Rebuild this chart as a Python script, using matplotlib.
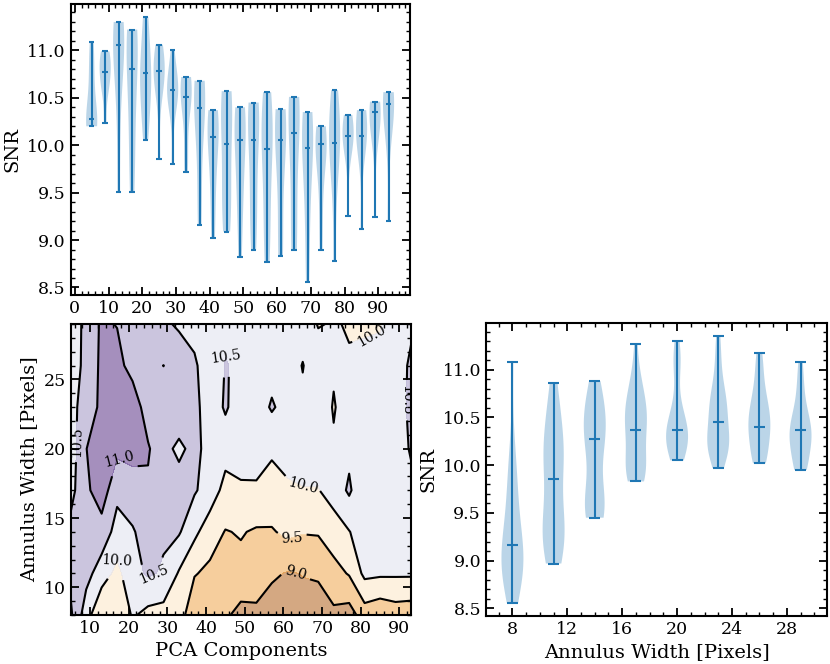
import numpy as np
import matplotlib as mpl
mpl.use("Agg")
import matplotlib.pyplot as plt
from matplotlib.ticker import MultipleLocator, AutoMinorLocator

# grid of the scan
pca_components = [5, 9, 13, 17, 21, 25, 29, 33, 37, 41, 45, 49,
                  53, 57, 61, 65, 69, 73, 77, 81, 85, 89, 93]
annulus_widths = [8, 11, 14, 17, 20, 23, 26, 29]

# SNR for each annulus width (one value per PCA component)
snr_w8 = [11.085, 10.23, 9.51, 9.51, 10.06, 9.85, 9.80, 9.72, 9.16, 9.02, 9.09, 8.82,
          8.90, 8.77, 8.83, 8.90, 8.56, 8.90, 8.78, 9.25, 9.12, 9.24, 9.20]
snr_w11 = [10.86, 10.67, 10.25, 9.86, 10.35, 10.56, 10.45, 9.95, 9.53, 9.40, 9.30, 9.38,
           9.24, 9.07, 8.97, 9.01, 9.11, 9.32, 9.54, 10.12, 10.08, 10.07, 10.07]
snr_w14 = [10.65, 10.88, 10.79, 10.32, 10.45, 10.74, 10.56, 10.55, 10.12, 9.71, 9.48, 9.53,
           9.45, 9.45, 9.62, 9.53, 9.54, 9.77, 9.98, 10.27, 10.28, 10.40, 10.30]
snr_w17 = [10.34, 10.90, 11.27, 10.62, 10.80, 10.91, 10.62, 10.65, 10.55, 10.29, 9.83, 9.95,
           9.90, 9.87, 9.92, 9.97, 9.98, 10.20, 10.58, 10.06, 10.37, 10.46, 10.42]
snr_w20 = [10.22, 10.99, 11.30, 11.12, 11.15, 11.06, 10.60, 10.43, 10.60, 10.37, 10.19, 10.15,
           10.32, 10.05, 10.19, 10.29, 10.20, 10.05, 10.38, 10.32, 10.37, 10.34, 10.53]
snr_w23 = [10.21, 10.90, 11.04, 11.22, 11.35, 10.70, 10.70, 10.72, 10.68, 10.16, 10.57, 10.20,
           10.22, 10.56, 10.30, 10.45, 10.25, 9.97, 10.20, 10.15, 10.08, 10.36, 10.56]
snr_w26 = [10.20, 10.66, 11.10, 11.18, 10.79, 10.85, 11.005, 10.68, 10.62, 10.02, 10.53, 10.40,
           10.40, 10.30, 10.38, 10.51, 10.35, 10.05, 10.06, 10.08, 10.12, 10.38, 10.54]
snr_w29 = [10.22, 10.63, 11.08, 10.98, 10.74, 10.82, 10.55, 10.46, 10.23, 10.20, 10.38, 10.37,
           10.45, 10.25, 10.25, 10.40, 9.96, 10.05, 9.95, 9.96, 9.97, 10.23, 10.46]

snr = np.array([snr_w8, snr_w11, snr_w14, snr_w17, snr_w20, snr_w23, snr_w26, snr_w29])

plt.rcParams['font.family'] = 'serif'
plt.rcParams['font.serif'] = ['DejaVu Serif']
plt.rcParams['font.size'] = 12.5
plt.rcParams['axes.labelsize'] = 14
plt.rcParams['axes.linewidth'] = 1.5
plt.rcParams['xtick.direction'] = 'in'
plt.rcParams['ytick.direction'] = 'in'
plt.rcParams['xtick.top'] = True
plt.rcParams['ytick.right'] = True
plt.rcParams['xtick.major.size'] = 6
plt.rcParams['ytick.major.size'] = 6
plt.rcParams['xtick.minor.size'] = 3
plt.rcParams['ytick.minor.size'] = 3
plt.rcParams['xtick.major.width'] = 1.3
plt.rcParams['ytick.major.width'] = 1.3
plt.rcParams['xtick.minor.width'] = 1.0
plt.rcParams['ytick.minor.width'] = 1.0

fig = plt.figure(figsize=(8.3, 6.64), dpi=100)
ax_pca = fig.add_axes([0.0852, 0.5557, 0.4082, 0.4383])
ax_map = fig.add_axes([0.0852, 0.0738, 0.4100, 0.4382])
ax_ann = fig.add_axes([0.5855, 0.0723, 0.4109, 0.4413])

#violins over annulus width for every number of PCA components
ax_pca.violinplot([snr[:, i] for i in range(len(pca_components))],
                  positions=pca_components, widths=3.3, showmedians=True)
ax_pca.set_ylabel("SNR")
ax_pca.xaxis.set_major_locator(MultipleLocator(10))
ax_pca.xaxis.set_minor_locator(AutoMinorLocator(5))
ax_pca.yaxis.set_major_locator(MultipleLocator(0.5))
ax_pca.yaxis.set_minor_locator(AutoMinorLocator(5))

#SNR map, half-unit levels
fill_levels = np.arange(8.5, 11.51, 0.5)
X, Y = np.meshgrid(pca_components, annulus_widths)
ax_map.contourf(X, Y, snr, levels=fill_levels, cmap='PuOr', alpha=0.5)
cs = ax_map.contour(X, Y, snr, levels=fill_levels[1:-1], colors='k', linewidths=1.5)
label_spots = [(6, 20.5), (18, 19.5), (27, 10.5), (17, 12.2), (45, 27.2),
               (83, 28.0), (92.5, 23.5), (65, 17.0), (62, 13.6), (63, 10.6)]
ax_map.clabel(cs, fmt='%.1f', fontsize=10, manual=label_spots)
ax_map.set_xlabel("PCA Components")
ax_map.set_ylabel("Annulus Width [Pixels]")
ax_map.xaxis.set_major_locator(MultipleLocator(10))
ax_map.xaxis.set_minor_locator(AutoMinorLocator(5))
ax_map.yaxis.set_major_locator(MultipleLocator(5))
ax_map.yaxis.set_minor_locator(AutoMinorLocator(5))

#violins over PCA components for every annulus width
ax_ann.violinplot([snr[j, :] for j in range(len(annulus_widths))],
                  positions=annulus_widths, widths=1.6, showmedians=True)
ax_ann.set_xlabel("Annulus Width [Pixels]")
ax_ann.set_ylabel("SNR")
ax_ann.xaxis.set_major_locator(MultipleLocator(4))
ax_ann.xaxis.set_minor_locator(AutoMinorLocator(4))
ax_ann.yaxis.set_major_locator(MultipleLocator(0.5))
ax_ann.yaxis.set_minor_locator(AutoMinorLocator(5))

fig.savefig("out.png", dpi=100)
